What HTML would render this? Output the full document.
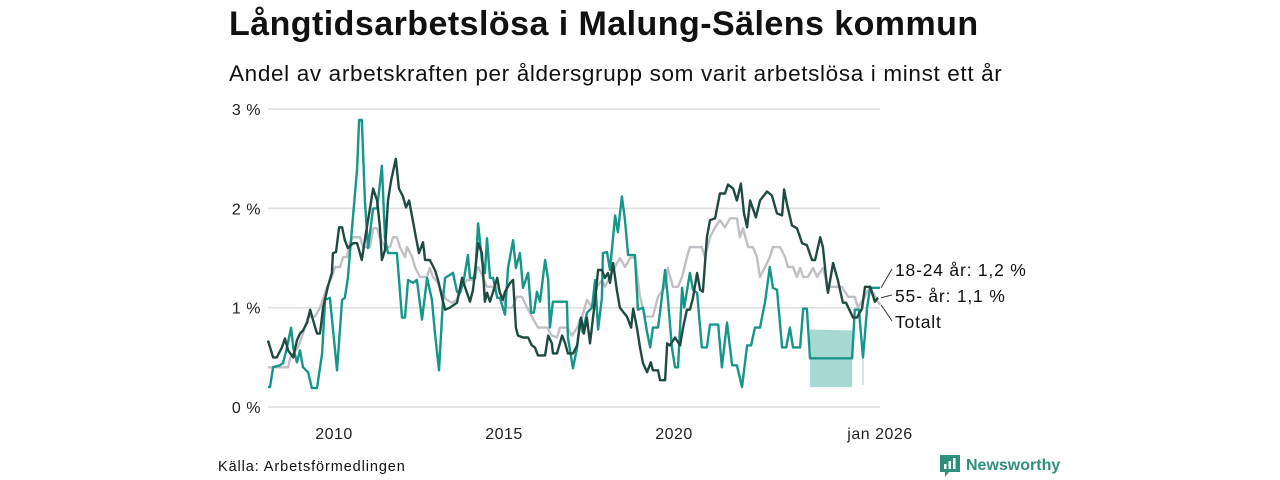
<!DOCTYPE html>
<html><head><meta charset="utf-8">
<style>
html,body{margin:0;padding:0;background:#fff;}
body{width:1280px;height:480px;position:relative;overflow:hidden;font-family:"Liberation Sans","DejaVu Sans",sans-serif;color:#111;}
#title{position:absolute;left:229px;top:5px;font-size:34px;font-weight:bold;letter-spacing:0.45px;}
#subtitle{position:absolute;left:229px;top:61px;font-size:22.5px;letter-spacing:0.65px;}
#source{position:absolute;left:218px;top:459px;font-size:14.5px;letter-spacing:0.9px;}
#brand{position:absolute;left:940px;top:455px;font-size:16px;font-weight:bold;color:#2f8f7c;display:flex;align-items:center;gap:6px;}
svg{position:absolute;left:0;top:0;}
</style></head><body>
<div id="title">Långtidsarbetslösa i Malung-Sälens kommun</div>
<div id="subtitle">Andel av arbetskraften per åldersgrupp som varit arbetslösa i minst ett år</div>
<div id="source">Källa: Arbetsförmedlingen</div>
<div id="brand"><svg style="position:static" width="20" height="22" viewBox="0 0 20 22"><path d="M0 0H20V17H9L5 22V17H0Z" fill="#2f8f7c"/><rect x="4" y="9" width="2.5" height="5" fill="#fff"/><rect x="8.5" y="6" width="2.5" height="8" fill="#fff"/><rect x="13" y="3" width="2.5" height="11" fill="#fff"/></svg><span>Newsworthy</span></div>
<svg id="chart" width="1280" height="480"></svg>
<script>
// ---- data ----
const yTicks = [0, 1, 2, 3];
const yTickLabels = ["0 %", "1 %", "2 %", "3 %"];
const xTicks = [2010, 2015, 2020, 2026];
const xTickLabels = ["2010", "2015", "2020", "jan 2026"];

const youngDates = [2008.00,2008.06,2008.15,2008.35,2008.44,2008.56,2008.68,2008.74,2008.85,2008.94,2009.03,2009.18,2009.29,2009.44,2009.59,2009.68,2009.82,2010.03,2010.18,2010.26,2010.35,2010.47,2010.62,2010.68,2010.76,2010.85,2010.94,2011.09,2011.21,2011.35,2011.44,2011.53,2011.79,2011.94,2012.03,2012.12,2012.26,2012.38,2012.53,2012.68,2012.82,2012.91,2013.03,2013.15,2013.21,2013.44,2013.56,2013.65,2013.76,2013.88,2013.94,2014.09,2014.18,2014.29,2014.38,2014.44,2014.53,2014.62,2014.74,2014.82,2014.97,2015.06,2015.21,2015.29,2015.41,2015.5,2015.65,2015.74,2015.82,2015.91,2016.0,2016.15,2016.24,2016.29,2016.38,2016.79,2016.82,2016.97,2017.09,2017.18,2017.26,2017.38,2017.53,2017.62,2017.71,2017.82,2017.85,2017.97,2018.06,2018.21,2018.29,2018.41,2018.5,2018.59,2018.79,2018.88,2019.03,2019.15,2019.24,2019.32,2019.47,2019.53,2019.68,2019.76,2019.88,2019.97,2020.06,2020.18,2020.24,2020.41,2020.5,2020.62,2020.76,2020.91,2021.0,2021.24,2021.35,2021.5,2021.65,2021.79,2021.94,2022.09,2022.21,2022.32,2022.47,2022.62,2022.76,2022.85,2022.97,2023.12,2023.24,2023.35,2023.44,2023.65,2023.74,2023.85,2023.94,2025.18,2025.26,2025.38,2025.5,2025.62,2025.71,2025.85,2026.0];
const youngValues = [0.2,0.2,0.4,0.42,0.44,0.6,0.8,0.6,0.45,0.57,0.4,0.35,0.19,0.19,0.54,1.08,1.1,0.37,1.08,1.1,1.3,1.8,2.4,2.89,2.89,2.08,1.6,2.0,2.0,2.43,1.7,1.55,1.55,0.9,0.9,1.28,1.25,1.28,0.88,1.3,1.08,0.75,0.37,1.1,1.3,1.35,1.16,1.15,1.28,1.53,1.3,1.3,1.85,1.48,1.35,1.7,1.3,1.3,1.1,1.1,0.93,1.4,1.68,1.4,1.55,1.2,1.35,0.95,0.95,1.16,1.06,1.48,1.28,0.8,1.06,1.06,0.7,0.39,0.6,0.88,0.75,0.95,1.0,1.28,0.78,1.1,1.55,1.56,1.38,1.93,1.76,2.12,1.88,1.53,1.53,0.98,1.0,0.75,0.6,0.8,0.8,0.95,1.38,1.1,0.6,0.4,0.4,1.2,1.0,1.35,1.18,1.15,0.6,0.6,0.83,0.83,0.4,0.85,0.42,0.42,0.2,0.62,0.62,0.8,0.8,1.06,1.41,1.2,1.18,0.6,0.6,0.8,0.6,0.6,0.99,0.99,0.49,0.49,0.98,0.98,0.5,1.0,1.2,1.2,1.2];

const bandDates = [2023.94, 2025.18];
const bandUpper = [0.78, 0.77];
const bandLower = [0.2, 0.2];
const band2Dates = [2025.47, 2025.53];
const band2Upper = [0.5, 0.5];
const band2Lower = [0.22, 0.22];

const oldDates = [2008.0,2008.15,2008.26,2008.41,2008.5,2008.59,2008.74,2008.85,2008.94,2009.03,2009.15,2009.24,2009.32,2009.44,2009.53,2009.62,2009.76,2009.88,2009.91,2010.0,2010.09,2010.18,2010.26,2010.35,2010.5,2010.62,2010.76,2010.88,2011.0,2011.09,2011.21,2011.29,2011.35,2011.44,2011.53,2011.62,2011.76,2011.85,2011.97,2012.06,2012.15,2012.26,2012.35,2012.44,2012.56,2012.62,2012.76,2012.91,2013.0,2013.12,2013.21,2013.35,2013.56,2013.71,2013.79,2013.94,2014.03,2014.18,2014.29,2014.38,2014.44,2014.53,2014.62,2014.74,2014.82,2014.91,2014.97,2015.12,2015.21,2015.29,2015.35,2015.5,2015.65,2015.76,2015.85,2015.94,2016.15,2016.24,2016.35,2016.38,2016.5,2016.65,2016.74,2016.82,2016.97,2017.09,2017.21,2017.29,2017.38,2017.47,2017.62,2017.71,2017.82,2017.91,2018.0,2018.06,2018.15,2018.26,2018.35,2018.44,2018.56,2018.68,2018.74,2018.85,2018.94,2019.03,2019.15,2019.26,2019.32,2019.47,2019.53,2019.68,2019.74,2019.82,2019.97,2020.12,2020.21,2020.32,2020.41,2020.5,2020.62,2020.71,2020.79,2020.91,2021.0,2021.15,2021.29,2021.44,2021.53,2021.68,2021.79,2021.91,2022.0,2022.09,2022.18,2022.35,2022.47,2022.68,2022.82,2022.97,2023.12,2023.18,2023.26,2023.41,2023.56,2023.71,2023.85,2024.0,2024.09,2024.24,2024.32,2024.44,2024.47,2024.62,2024.76,2024.91,2025.0,2025.21,2025.32,2025.47,2025.56,2025.71,2025.85,2025.94,2026.0];
const oldValues = [0.67,0.5,0.5,0.6,0.69,0.57,0.5,0.67,0.74,0.77,0.85,0.98,0.88,0.74,0.74,1.0,1.21,1.35,1.55,1.56,1.81,1.81,1.68,1.6,1.65,1.65,1.48,1.75,2.0,2.2,2.08,1.81,1.48,1.58,2.08,2.28,2.5,2.2,2.12,2.01,2.08,1.88,1.71,1.55,1.66,1.48,1.48,1.38,1.28,1.1,0.98,1.0,1.05,1.3,1.21,1.06,1.18,1.65,1.55,1.06,1.15,1.06,1.16,1.3,1.15,1.08,1.16,1.25,1.28,0.8,0.72,0.7,0.7,0.62,0.6,0.52,0.52,0.72,0.64,0.54,0.54,0.72,0.64,0.54,0.54,0.62,0.9,0.74,0.9,0.64,1.08,1.38,1.38,1.3,1.35,1.25,1.45,1.18,1.0,0.96,0.91,0.8,0.99,0.8,0.6,0.44,0.35,0.45,0.37,0.37,0.27,0.27,0.64,0.62,0.7,0.62,0.8,0.98,0.98,1.1,1.35,1.18,1.16,1.71,1.88,1.9,2.15,2.15,2.24,2.2,2.08,2.25,1.95,1.81,2.08,1.91,2.08,2.17,2.13,1.95,1.93,2.19,2.05,1.83,1.8,1.65,1.63,1.48,1.48,1.71,1.61,1.21,1.15,1.45,1.28,1.05,1.05,0.9,0.9,0.99,1.21,1.21,1.06,1.1];

const totalDates = [2008.0,2008.59,2008.65,2008.74,2008.88,2009.03,2009.18,2009.38,2009.53,2009.74,2009.88,2009.97,2010.12,2010.21,2010.32,2010.41,2010.5,2010.71,2010.79,2011.0,2011.09,2011.21,2011.29,2011.44,2011.59,2011.68,2011.79,2011.88,2012.03,2012.09,2012.24,2012.32,2012.47,2012.68,2012.76,2012.85,2013.0,2013.12,2013.26,2013.41,2013.56,2013.65,2013.85,2014.03,2014.18,2014.32,2014.44,2014.74,2014.88,2015.03,2015.18,2015.32,2015.47,2015.62,2015.76,2015.94,2016.21,2016.35,2016.5,2016.59,2016.79,2016.94,2017.09,2017.24,2017.38,2017.53,2017.68,2017.82,2017.91,2018.06,2018.21,2018.35,2018.5,2018.65,2018.79,2018.94,2019.09,2019.32,2019.47,2019.68,2019.76,2019.91,2020.06,2020.18,2020.32,2020.41,2020.76,2020.85,2021.0,2021.15,2021.29,2021.44,2021.59,2021.79,2021.88,2021.97,2022.12,2022.26,2022.38,2022.47,2022.62,2022.76,2022.85,2023.06,2023.21,2023.29,2023.44,2023.56,2023.65,2023.74,2023.88,2024.03,2024.15,2024.32,2024.47,2024.88,2025.06,2025.26,2025.35,2025.5,2025.71,2025.91,2026.0];
const totalValues = [0.4,0.4,0.49,0.54,0.6,0.74,0.91,0.91,1.0,1.21,1.31,1.41,1.41,1.51,1.51,1.65,1.71,1.71,1.61,1.61,1.8,1.8,1.71,1.61,1.61,1.71,1.71,1.61,1.51,1.61,1.51,1.41,1.31,1.31,1.4,1.31,1.25,1.15,1.08,1.05,1.08,1.18,1.28,1.28,1.41,1.31,1.21,1.21,1.11,1.0,1.0,1.11,1.11,1.0,0.91,0.8,0.8,0.72,0.7,0.8,0.8,0.72,0.8,0.91,1.08,1.0,1.21,1.28,1.21,1.31,1.41,1.5,1.41,1.5,1.51,1.11,0.91,0.91,1.11,1.21,1.4,1.21,1.21,1.31,1.51,1.61,1.61,1.51,1.71,1.81,1.88,1.81,1.9,1.9,1.71,1.8,1.61,1.61,1.51,1.31,1.41,1.51,1.61,1.61,1.51,1.41,1.41,1.31,1.4,1.31,1.31,1.4,1.31,1.4,1.21,1.21,1.11,1.11,1.0,1.08,1.21,1.08,1.03];

const labels = ["18-24 år: 1,2 %", "55- år: 1,1 %", "Totalt"];

// ---- scales ----
const X0 = 268, X1 = 880, Y0 = 407, PXPER = 99.3;
function xs(t){ return X0 + (t - 2008) / 18 * (X1 - X0); }
function ys(v){ return Y0 - v * PXPER; }

const NS = "http://www.w3.org/2000/svg";
const svg = document.getElementById('chart');
function el(tag, attrs, parent){ const e = document.createElementNS(NS, tag); for (const k in attrs) e.setAttribute(k, attrs[k]); (parent||svg).appendChild(e); return e; }

yTicks.forEach((v,i)=>{
  const g = el('line',{x1:X0,x2:X1,y1:ys(v),y2:ys(v),stroke:'#dedede','stroke-width':1.5});
  
  
  const t = el('text',{x:261,y:ys(v)+6,'text-anchor':'end','font-size':16,fill:'#222','font-family':'Liberation Sans, sans-serif','letter-spacing':0.5});
  t.textContent = yTickLabels[i];
  
  
});
xTicks.forEach((v,i)=>{
  const t = el('text',{x:xs(v)-(i===3?0:2),y:439,'text-anchor':'middle','font-size':16,fill:'#222','font-family':'Liberation Sans, sans-serif','letter-spacing':0.5});
  t.textContent = xTickLabels[i];
  
  
});

function bandPath(d, up, lo){
  let p = d.map((t,i)=>(i?'L':'M')+xs(t)+','+ys(up[i])).join('');
  for (let i=d.length-1;i>=0;i--) p += 'L'+xs(d[i])+','+ys(lo[i]);
  return p+'Z';
}
const b1 = el('path',{d:bandPath(bandDates,bandUpper,bandLower),fill:'#a6d9d1'});


const b2 = el('path',{d:bandPath(band2Dates,band2Upper,band2Lower),fill:'#cfeae6'});



function line(d, v, color, w, name){
  const p = el('path',{d:d.map((t,i)=>(i?'L':'M')+xs(t).toFixed(1)+','+ys(v[i]).toFixed(1)).join(''),fill:'none',stroke:color,'stroke-width':w,'stroke-linejoin':'round'});
  
  
}
line(totalDates,totalValues,'#c2bec6',2.4,'series-totalt');
line(youngDates,youngValues,'#16968a',2.4,'series-18-24');
line(oldDates,oldValues,'#1e4a42',2.4,'series-55');

const lastY = [ys(youngValues[youngValues.length-1]), ys(oldValues[oldValues.length-1]), ys(totalValues[totalValues.length-1])];
const labY = [270, 296, 322];
labels.forEach((s,i)=>{
  const l = el('line',{x1:X1+1,y1:lastY[i],x2:892,y2:labY[i]-1,stroke:'#333','stroke-width':1});
  
  
  const t = el('text',{x:895,y:labY[i]+6,'font-size':17.5,fill:'#111','font-family':'Liberation Sans, sans-serif','letter-spacing':0.8});
  t.textContent = s;
  
  
});
</script>
</body></html>
